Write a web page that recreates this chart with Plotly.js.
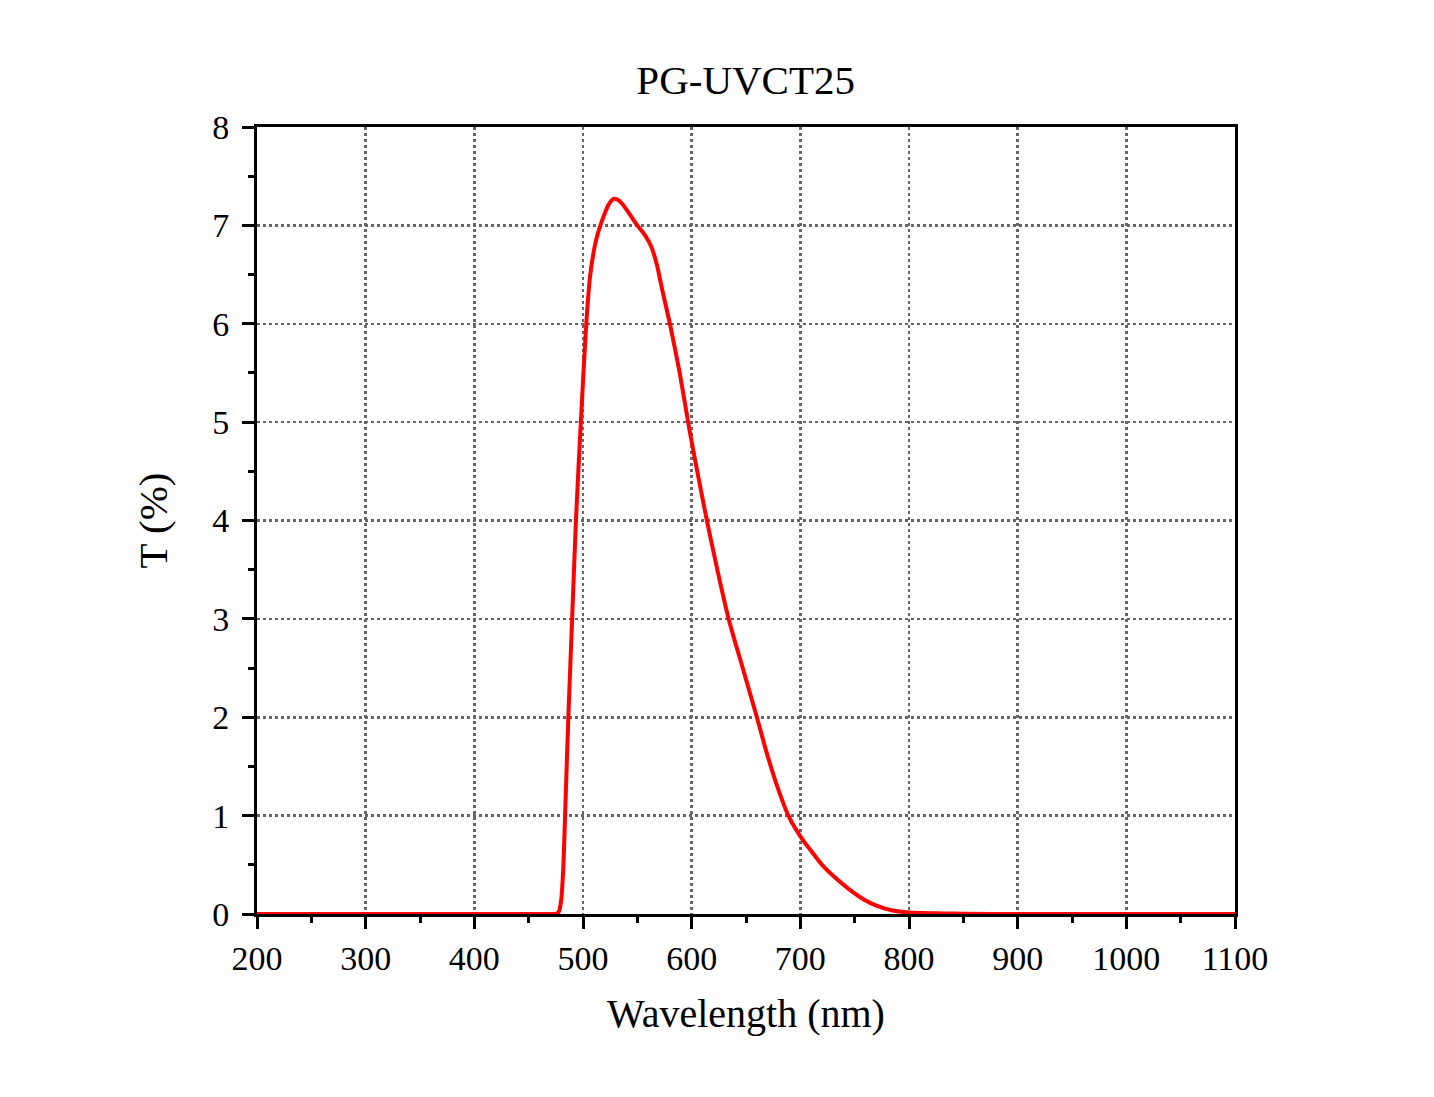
<!DOCTYPE html>
<html>
<head>
<meta charset="utf-8">
<script src="https://cdn.plot.ly/plotly-3.0.1.min.js"></script>
<style>
  html, body { margin: 0; padding: 0; background: #fff; }
  #plot { width: 1434px; height: 1097px; }
</style>
</head>
<body>
<div id="plot"></div>
<script>
// wavelength (nm) and transmittance (%)
let wavelength = [
  200, 300, 400, 450, 470, 476, 478, 480, 482, 483.5, 486.5, 490, 493.5, 498,
  503, 506.5, 511, 514, 517, 520, 523, 526, 528.5, 532, 536, 542, 550, 557,
  563, 568, 573, 580, 589, 598, 606, 614, 624, 634, 647, 660, 669, 679, 689,
  700, 710, 720, 732, 745, 758, 770, 785, 800, 830, 850, 900, 1000, 1100,
];
let transmittance = [
  0, 0, 0, 0, 0, 0.005, 0.03, 0.15, 0.5, 1.0, 2.0, 3.0, 4.0, 5.0,
  6.0, 6.48, 6.8, 6.93, 7.03, 7.12, 7.2, 7.25, 7.27, 7.26, 7.22, 7.13, 7.0, 6.9,
  6.78, 6.6, 6.34, 6.0, 5.5, 4.92, 4.45, 4.0, 3.48, 3.0, 2.5, 2.0, 1.64, 1.29, 1.0,
  0.79, 0.64, 0.5, 0.37, 0.25, 0.15, 0.085, 0.035, 0.015, 0.006, 0.003, 0, 0, 0,
];
let xTicks = [200, 300, 400, 500, 600, 700, 800, 900, 1000, 1100];
let yTicks = [0, 1, 2, 3, 4, 5, 6, 7, 8];

let font = 'Liberation Serif, Times New Roman, serif';

let data = [
  {
    x: wavelength,
    y: transmittance,
    type: 'scatter',
    mode: 'lines',
    line: { color: '#ff0000', width: 4, shape: 'spline', smoothing: 0.6 },
    showlegend: false,
  },
];

let axis = {
  showline: true,
  linecolor: '#000',
  linewidth: 3,
  mirror: true,
  ticks: 'outside',
  ticklen: 12,
  tickwidth: 3,
  tickcolor: '#000',
  showgrid: true,
  gridcolor: '#666',
  gridwidth: 2.5,
  griddash: 'dot',
  zeroline: false,
  tickfont: { family: font, size: 34, color: '#000' },
};

Plotly.newPlot(
  'plot',
  data,
  {
    width: 1434,
    height: 1097,
    paper_bgcolor: '#fff',
    plot_bgcolor: '#fff',
    margin: { t: 127, r: 199, b: 183, l: 257 },
    title: {
      text: 'PG-UVCT25',
      font: { family: font, size: 41, color: '#000' },
      x: 0.52,
      xanchor: 'center',
      y: 0.927,
      yanchor: 'middle',
    },
    xaxis: {
      ...axis,
      range: [200, 1100],
      tickvals: xTicks,
      minor: { dtick: 50, ticklen: 6, tickwidth: 3, tickcolor: '#000', showgrid: false },
      title: { text: 'Wavelength (nm)', font: { family: font, size: 40, color: '#000' }, standoff: 24 },
    },
    yaxis: {
      ...axis,
      range: [0, 8],
      tickvals: yTicks,
      ticklabelstandoff: 6,
      minor: { dtick: 0.5, ticklen: 6, tickwidth: 3, tickcolor: '#000', showgrid: false },
      title: { text: 'T (%)', font: { family: font, size: 41, color: '#000' }, standoff: 32 },
    },
  },
  { staticPlot: true }
);
</script>
</body>
</html>
